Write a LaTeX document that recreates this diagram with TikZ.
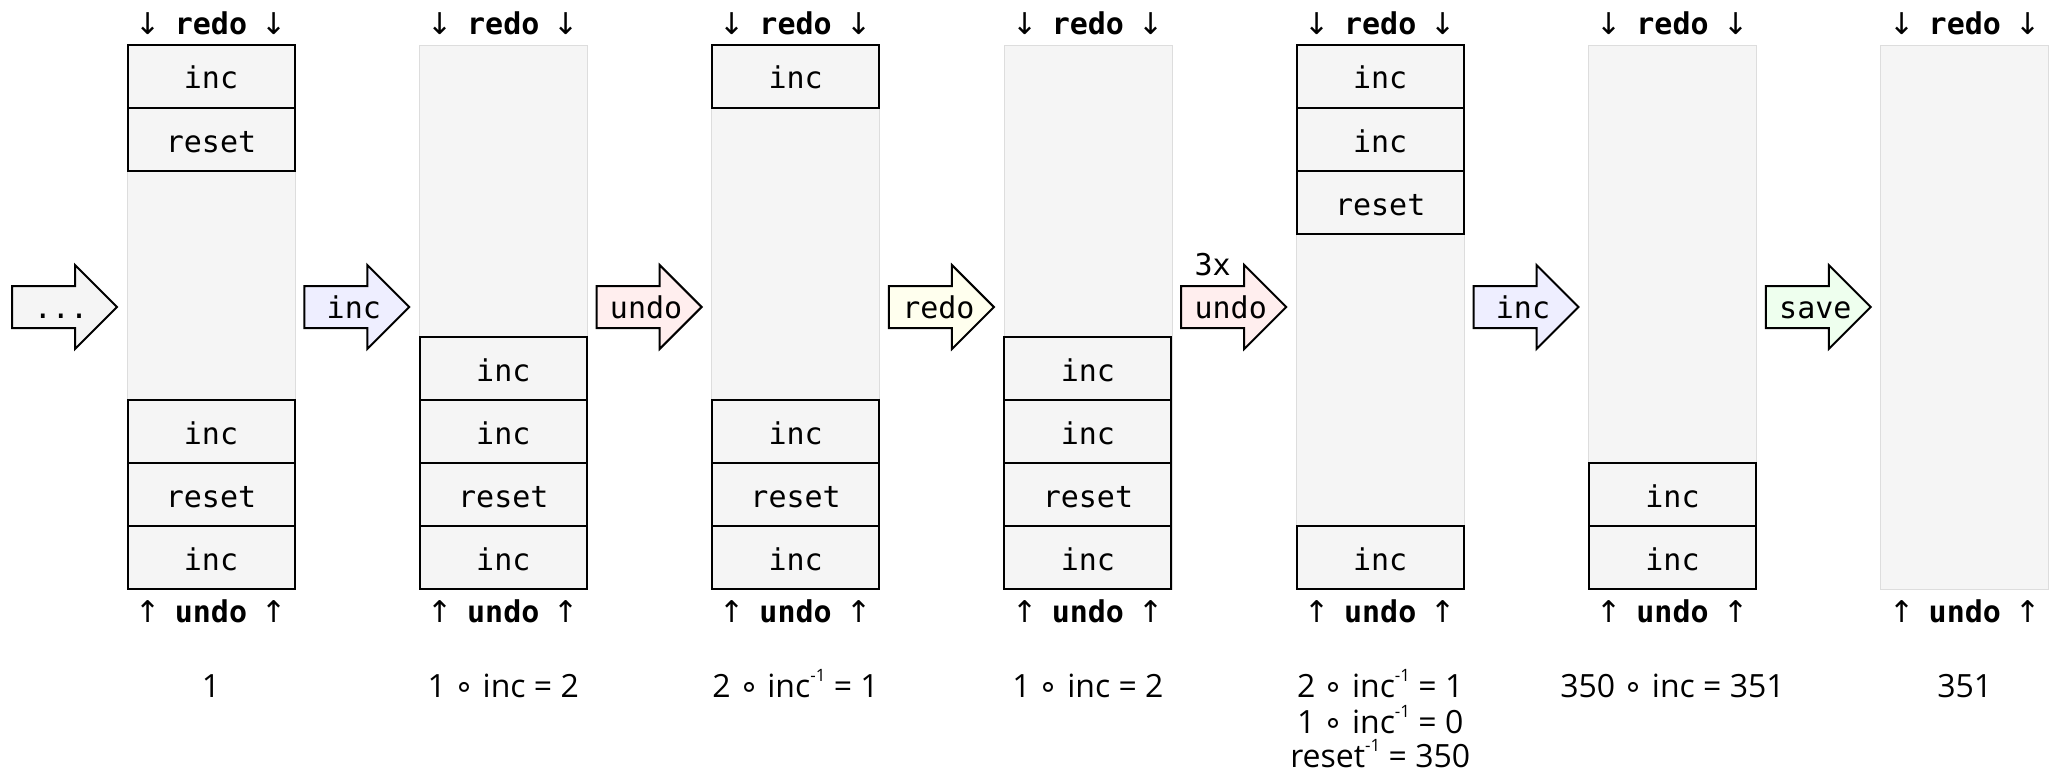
\documentclass[tikz,border=0pt]{standalone}
\usepackage{fontspec}
\setmainfont{Open Sans}
\setmonofont{DejaVu Sans Mono}
\newfontfamily\symfont{DejaVu Sans}

\definecolor{cellgray}{HTML}{F5F5F5}
\definecolor{coledge}{HTML}{DDDDDD}
\definecolor{dotsfill}{HTML}{F5F5F5}
\definecolor{incfill}{HTML}{EEEEFF}
\definecolor{undofill}{HTML}{FFEEEE}
\definecolor{redofill}{HTML}{FFFFEE}
\definecolor{savefill}{HTML}{EEFFEE}

\newcommand\cmp{{\symfont ∘}}
\newcommand\inv{\raisebox{0.47em}{\fontsize{17}{17}\selectfont -1}}
\newcommand\dn{\makebox[0.602em]{\symfont ↓}}
\newcommand\up{\makebox[0.602em]{\symfont ↑}}
\newcommand\redohead{\dn{} \textbf{redo} \dn}
\newcommand\undohead{\up{} \textbf{undo} \up}

\tikzset{
  stackbg/.style={fill=cellgray, draw=coledge, line width=0.8pt,
    minimum width=168pt, minimum height=544pt, inner sep=0pt},
  cell/.style={draw=black, line width=2pt, fill=cellgray,
    minimum width=167pt, minimum height=63pt, inner sep=0pt,
    text height=31.5pt, text depth=6.5pt, font=\fontsize{30}{36}\ttfamily},
  headtxt/.style={anchor=base, inner sep=0pt, font=\fontsize{30}{36}\ttfamily},
  eqtxt/.style={anchor=base, inner sep=0pt, font=\fontsize{32}{36}\selectfont},
  arrowtxt/.style={inner sep=0pt, text height=30pt, text depth=8pt,
    font=\fontsize{30}{36}\ttfamily},
  blockarrow/.pic={
    \path[pic actions, draw=black, line width=2pt, line join=miter]
      (-52.5,-21) -- (10.5,-21) -- (10.5,-42) -- (52.5,0)
      -- (10.5,42) -- (10.5,21) -- (-52.5,21) -- cycle;
  }
}

\begin{document}
\begin{tikzpicture}[x=1pt,y=-1pt]
\useasboundingbox (0,0) rectangle (2049,773);

% ---- stack backgrounds ----
\node[stackbg] (s1) at (211,317) {};
\node[stackbg] (s2) at (503.3,317) {};
\node[stackbg] (s3) at (795.6,317) {};
\node[stackbg] (s4) at (1087.9,317) {};
\node[stackbg] (s5) at (1380.2,317) {};
\node[stackbg] (s6) at (1672.5,317) {};
\node[stackbg] (s7) at (1964.8,317) {};

% ---- redo / undo headings ----
\foreach \n/\x in {1/211,2/503.3,3/795.6,4/1087.9,5/1380.2,6/1672.5,7/1964.8}{
  \node[headtxt] (r\n) at (\x,35) {\redohead};
  \node[headtxt] (u\n) at (\x,622) {\undohead};
}

% ---- stack 1 ----
\node[cell] (s1t1) at (211,76.5) {inc};
\node[cell] (s1t2) at (211,139.5) {reset};
\node[cell] (s1b3) at (211,431.5) {inc};
\node[cell] (s1b2) at (211,494.5) {reset};
\node[cell] (s1b1) at (211,557.5) {inc};

% ---- stack 2 ----
\node[cell] (s2b4) at (503.3,368.5) {inc};
\node[cell] (s2b3) at (503.3,431.5) {inc};
\node[cell] (s2b2) at (503.3,494.5) {reset};
\node[cell] (s2b1) at (503.3,557.5) {inc};

% ---- stack 3 ----
\node[cell] (s3t1) at (795.6,76.5) {inc};
\node[cell] (s3b3) at (795.6,431.5) {inc};
\node[cell] (s3b2) at (795.6,494.5) {reset};
\node[cell] (s3b1) at (795.6,557.5) {inc};

% ---- stack 4 ----
\node[cell] (s4b4) at (1087.9,368.5) {inc};
\node[cell] (s4b3) at (1087.9,431.5) {inc};
\node[cell] (s4b2) at (1087.9,494.5) {reset};
\node[cell] (s4b1) at (1087.9,557.5) {inc};

% ---- stack 5 ----
\node[cell] (s5t1) at (1380.2,76.5) {inc};
\node[cell] (s5t2) at (1380.2,139.5) {inc};
\node[cell] (s5t3) at (1380.2,202.5) {reset};
\node[cell] (s5b1) at (1380.2,557.5) {inc};

% ---- stack 6 ----
\node[cell] (s6b2) at (1672.5,494.5) {inc};
\node[cell] (s6b1) at (1672.5,557.5) {inc};

% ---- operation arrows ----
\pic[fill=dotsfill] (a1) at (64.5,307) {blockarrow};
\node[arrowtxt] (a1t) at (61,307) {...};
\pic[fill=incfill] (a2) at (356.8,307) {blockarrow};
\node[arrowtxt] (a2t) at (353.8,307) {inc};
\pic[fill=undofill] (a3) at (649.1,307) {blockarrow};
\node[arrowtxt] (a3t) at (646.1,307) {undo};
\pic[fill=redofill] (a4) at (941.4,307) {blockarrow};
\node[arrowtxt] (a4t) at (938.4,307) {redo};
\pic[fill=undofill] (a5) at (1233.7,307) {blockarrow};
\node[arrowtxt] (a5t) at (1230.7,307) {undo};
\node[arrowtxt, anchor=base west] (a5n) at ([yshift=43pt]a5t.base west) {3x};
\pic[fill=incfill] (a6) at (1526,307) {blockarrow};
\node[arrowtxt] (a6t) at (1523,307) {inc};
\pic[fill=savefill] (a7) at (1818.3,307) {blockarrow};
\node[arrowtxt] (a7t) at (1815.3,307) {save};

% ---- resulting values ----
\node[eqtxt] (v1) at (211,697) {1};
\node[eqtxt] (v2) at (503.3,697) {1 \cmp{} inc = 2};
\node[eqtxt] (v3) at (795.6,697) {2 \cmp{} inc\inv{} = 1};
\node[eqtxt] (v4) at (1087.9,697) {1 \cmp{} inc = 2};
\node[eqtxt] (v5a) at (1380.2,697) {2 \cmp{} inc\inv{} = 1};
\node[eqtxt] (v5b) at (1380.2,733) {1 \cmp{} inc\inv{} = 0};
\node[eqtxt] (v5c) at (1380.2,767) {reset\inv{} = 350};
\node[eqtxt] (v6) at (1672.5,697) {350 \cmp{} inc = 351};
\node[eqtxt] (v7) at (1964.8,697) {351};
\end{tikzpicture}
\end{document}
